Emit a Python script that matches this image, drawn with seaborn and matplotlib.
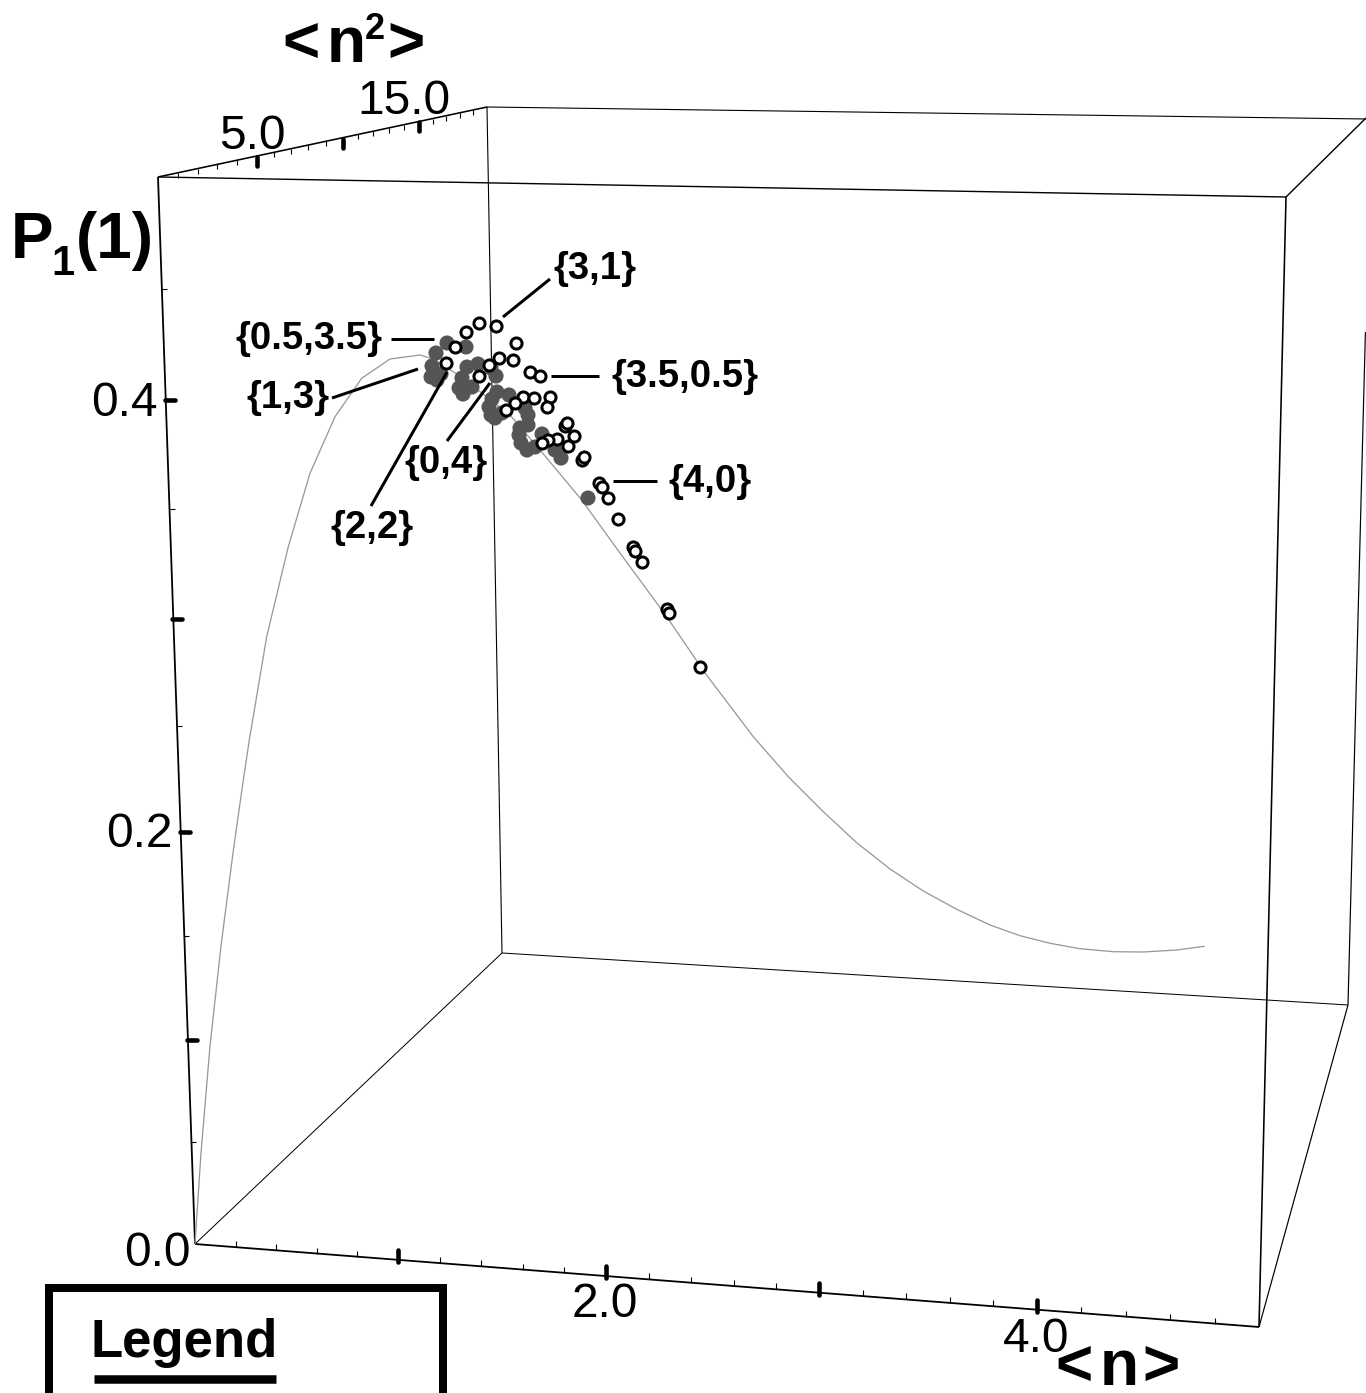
import numpy as np
import matplotlib
matplotlib.use("Agg")
import matplotlib.pyplot as plt
import seaborn as sns

# everything is in projected picture coordinates (the original is a 3D box)
curve_x = [195, 201, 210, 221, 233, 242, 249.3, 266.7, 288.3, 310, 335, 361.7, 390, 420, 433, 460,
           510, 540, 581.7, 620, 666.7, 705, 753.3, 788.3, 823.3, 856.7, 890, 923.3, 956.7, 990, 1020, 1050,
           1080, 1113.3, 1143.3, 1176.7, 1204.3]
curve_y = [1244, 1153, 1046, 946, 853, 789, 740, 636.7, 546.7, 473.3, 416.7, 378.3, 359, 355, 359, 376,
           415, 450, 500, 553, 616.7, 673, 736.7, 776.7, 811.7, 842.7, 869, 891, 909.3, 925, 935.7, 943.3,
           948.7, 951.7, 952, 950, 946.3]

filled_x = [447, 466, 436, 432, 431, 437, 441, 467, 478, 462, 459, 463, 472, 496, 491, 497, 509, 492, 489, 491,
            495, 502, 525, 528, 528, 520, 519, 521, 527, 535, 542, 555, 561, 588]
filled_y = [343, 347, 353, 366, 377, 380, 374, 367, 364, 378, 388, 394, 387, 376, 368, 392, 395, 399, 407, 415,
            418, 413, 408, 415, 425, 428, 435, 443, 450, 447, 434, 450, 458, 498]

open_x = [466, 479, 496, 516, 513, 499, 489, 455, 446, 479, 530, 540, 523, 534, 550, 547, 515, 506, 565, 567,
          574, 568, 557, 548, 542, 582, 584, 599, 602, 608, 618, 633, 635, 642, 667, 669, 700]
open_y = [332, 323, 326, 343, 360, 358, 365, 347, 363, 376, 372, 376, 397, 398, 397, 407, 403, 410, 426, 423,
          436, 446, 439, 440, 443, 460, 457, 483, 487, 498, 519, 547, 551, 562, 609, 613, 667]

# tick scales: value -> where it lands along the (perspective) axis
n_major = [0, 1, 2, 3, 4, 5]
n_major_px = [195, 398, 606, 819, 1037, 1259]
n2_major = [0, 5, 10, 15, 20]
n2_major_px = [158.3, 256.7, 342.7, 419.3, 487]
p_major = [0, 0.1, 0.2, 0.3, 0.4, 0.5]
p_major_py = [1244, 1040, 832, 619, 400, 177]

labels = ["{3,1}", "{0.5,3.5}", "{1,3}", "{3.5,0.5}", "{0,4}", "{4,0}", "{2,2}"]
label_x = [553, 235, 246, 611, 404, 668, 330]
label_y = [279, 349, 408, 387, 473, 492, 538]
leaders = [((503, 317), (550, 279)), ((391, 339), (434, 339)), ((332, 398), (418, 369)), ((551, 376), (599, 376)),
           ((447, 441), (490, 383)), ((613, 481), (657, 481)), ((371, 506), (447, 372))]

sns.set_style("white")
plt.rcParams["font.family"] = ["Liberation Sans", "DejaVu Sans"]
plt.rcParams["text.color"] = "black"

fig = plt.figure(figsize=(13.66, 13.93), dpi=100)
ax = fig.add_axes([0, 0, 1, 1])
ax.set_xlim(0, 1366)
ax.set_ylim(1393, 0)
ax.axis("off")

PX = 0.72  # one pixel in points


def seg(a, b, w=1.0, cap="butt", z=1):
    ax.plot([a[0], b[0]], [a[1], b[1]], color="black", lw=w * PX, solid_capstyle=cap, zorder=z)


def bold(x, y, s, size):
    ax.text(x, y, s, fontsize=size, fontweight="bold", ha="left", va="baseline")


# box
f_tl, f_tr, f_br, f_bl = (158, 177), (1286, 197), (1259, 1327), (195, 1244)
b_tl, b_bl, b_br = (487, 107), (502, 953), (1348, 1005)
seg(f_tl, f_tr, 1.4)
seg(f_tr, f_br, 1.6)
seg(f_br, f_bl, 1.8)
seg(f_bl, f_tl, 1.8)
seg(f_tl, b_tl, 1.6)
seg(b_tl, (1366, 119), 1.1)
seg(f_tr, (1366, 118), 1.4)
seg(b_tl, b_bl, 1.1)
seg(f_bl, b_bl, 1.0)
seg(b_bl, b_br, 1.0)
seg(b_br, f_br, 1.2)
seg(b_br, (1365.4, 332), 1.2)

# ticks
n_ticks = np.arange(0, 5.01, 0.2)
for t in n_ticks[1:-1]:
    x = np.interp(t, n_major, n_major_px)
    y = f_bl[1] + (x - f_bl[0]) * (f_br[1] - f_bl[1]) / (f_br[0] - f_bl[0])
    if abs(t - round(t)) < 1e-6:
        seg((x, y - 10), (x, y + 2), 4.6, "round")
    else:
        seg((x, y - 6), (x, y), 1.1)

n2_ticks = np.arange(1, 20)
for t in n2_ticks:
    x = np.interp(t, n2_major, n2_major_px)
    y = f_tl[1] + (x - f_tl[0]) * (b_tl[1] - f_tl[1]) / (b_tl[0] - f_tl[0])
    if t % 5 == 0:
        seg((x, y + 1), (x, y + 10), 4.6, "round")
    else:
        seg((x, y), (x, y + 5), 1.1)

p_ticks = np.arange(0.05, 0.5, 0.05)
for t in p_ticks:
    y = np.interp(t, p_major, p_major_py)
    x = f_tl[0] + (y - f_tl[1]) * (f_bl[0] - f_tl[0]) / (f_bl[1] - f_tl[1])
    if round(t * 100) % 10 == 0:
        seg((x - 1, y), (x + 9, y), 4.6, "round")
    else:
        seg((x, y), (x + 5, y), 1.1)

# curve and the two point sets
sns.lineplot(x=curve_x, y=curve_y, sort=False, estimator=None, color="#999999", lw=1.3 * PX, ax=ax, zorder=2)
sns.scatterplot(x=filled_x, y=filled_y, s=118, color="#555555", edgecolor="none", ax=ax, zorder=3)
sns.scatterplot(x=open_x, y=open_y, s=64, facecolor="white", edgecolor="black", linewidth=3 * PX, ax=ax, zorder=4)

for a, b in leaders:
    seg(a, b, 3, z=5)
for s, x, y in zip(labels, label_x, label_y):
    bold(x, y, s, 27.6)

# tick labels
for s, x, y in [("5.0", 219, 149), ("15.0", 357, 114), ("0.4", 91, 416), ("0.2", 106, 847),
                ("0.0", 124, 1266), ("2.0", 572, 1317), ("4.0", 1003, 1352)]:
    ax.text(x, y, s, fontsize=34.5, ha="left", va="baseline")

# axis titles, piece by piece because the original glyphs sit wider apart
bold(282, 62, "<", 46)
bold(327, 62, "n", 46)
bold(365, 39, "2", 26)
bold(387, 62, ">", 46)
bold(1055, 1385, "<", 46)
bold(1100, 1385, "n", 46)
bold(1142, 1385, ">", 46)
bold(11, 258, "P", 46)
bold(51, 275, "1", 30)
bold(76, 258, "(1)", 46)

# legend box, cut off by the lower edge of the picture
ax.plot([49, 49, 443, 443], [1400, 1288, 1288, 1400], color="black", lw=8 * PX, solid_joinstyle="miter", zorder=6)
bold(90, 1357, "Legend", 38)
seg((94, 1378.5), (276, 1378.5), 8.5, z=6)

fig.savefig("out.png", dpi=100)
